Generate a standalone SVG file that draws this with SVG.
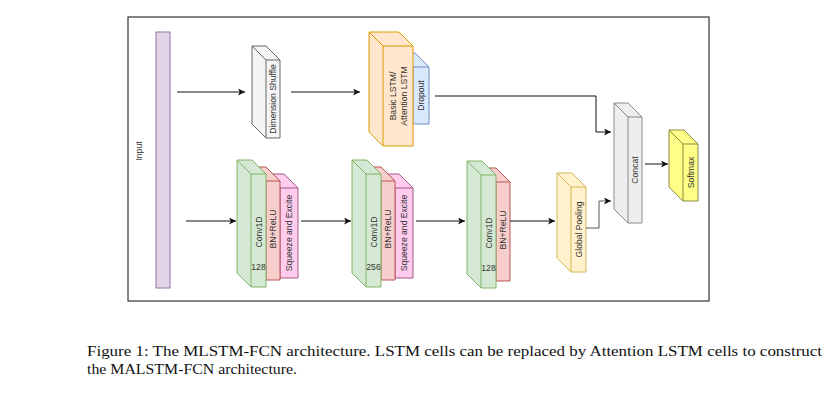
<svg xmlns="http://www.w3.org/2000/svg" width="838" height="400" viewBox="0 0 838 400">
<style>
.lbl{font-family:"Liberation Sans",Arial,sans-serif;font-size:8.6px;fill:#333;stroke:none;text-anchor:middle;dominant-baseline:central}
.cap{font-family:"Liberation Serif","Times New Roman",serif;font-size:15.4px;fill:#111}
.edge{fill:none;stroke:#111;stroke-width:1}
.gray{fill:#f5f5f5;stroke:#666}
.conc{fill:#eeeeee;stroke:#8a8a8a}
.org{fill:#ffe6cc;stroke:#d79b00}
.blue{fill:#dae8fc;stroke:#6c8ebf}
.grn{fill:#d5e8d4;stroke:#82b366}
.red{fill:#f8cecc;stroke:#b85450}
.pnk{fill:#ffccee;stroke:#a0588a}
.ylw{fill:#fff2cc;stroke:#d6b656}
.sm{fill:#ffff88;stroke:#8a8a40}
.in{fill:#e1d5e7;stroke:#9673a6}
.inner{fill:none}
</style>
<defs>
<marker id="ah" markerUnits="userSpaceOnUse" markerWidth="8" markerHeight="7" refX="7" refY="3.5" orient="auto">
<path d="M0,0 L7,3.5 L0,7 L1.8,3.5 z" fill="#111"/>
</marker>
</defs>
<rect x="128" y="17" width="581" height="284" fill="#fff" stroke="#333" stroke-width="1.2"/>

<g id="input">
<rect class="in" x="156" y="32" width="14" height="256"/>
<text class="lbl" transform="rotate(-90 139 151)" x="139" y="151">Input</text>
</g>

<g id="dimshuffle" class="gray">
<polygon points="252,46 266,46 280,60 280,138 266,138 252,124"/>
<path class="inner" d="M252,46 L266,60 L280,60 M266,60 L266,138"/>
<text class="lbl" transform="rotate(-90 273 99)" x="273" y="99">Dimension Shuffle</text>
</g>

<g id="dropout" class="blue">
<polygon points="399,53 415,53 429,67 429,124 413,124 399,110"/>
<path class="inner" d="M399,53 L413,67 L429,67 M413,67 L413,124"/>
<text class="lbl" transform="rotate(-90 421 95.5)" x="421" y="95.5">Dropout</text>
</g>

<g id="lstm" class="org">
<polygon points="369,32 399,32 413,46 413,146 383,146 369,132"/>
<path class="inner" d="M369,32 L383,46 L413,46 M383,46 L383,146"/>
<text class="lbl" transform="rotate(-90 398 96)" x="398" y="90.5">Basic LSTM/</text>
<text class="lbl" transform="rotate(-90 398 96)" x="398" y="101.5">Attention LSTM</text>
</g>

<g id="se1" class="pnk">
<polygon points="266,174 284,174 298,188 298,278 280,278 266,264"/>
<path class="inner" d="M266,174 L280,188 L298,188 M280,188 L280,278"/>
<text class="lbl" transform="rotate(-90 289 233)" x="289" y="233">Squeeze and Excite</text>
</g>
<g id="bn1" class="red">
<polygon points="252,167 266,167 280,181 280,280 266,280 252,266"/>
<path class="inner" d="M252,167 L266,181 L280,181 M266,181 L266,280"/>
<text class="lbl" transform="rotate(-90 273 229)" x="273" y="229">BN+ReLU</text>
</g>
<g id="conv1" class="grn">
<polygon points="237,160 252,160 266,174 266,287 251,287 237,273"/>
<path class="inner" d="M237,160 L251,174 L266,174 M251,174 L251,287"/>
<text class="lbl" transform="rotate(-90 258.5 232)" x="258.5" y="232">Conv1D</text>
<text class="lbl" x="258.5" y="267">128</text>
</g>

<g id="se2" class="pnk" transform="translate(115 0)">
<polygon points="266,174 284,174 298,188 298,278 280,278 266,264"/>
<path class="inner" d="M266,174 L280,188 L298,188 M280,188 L280,278"/>
<text class="lbl" transform="rotate(-90 289 233)" x="289" y="233">Squeeze and Excite</text>
</g>
<g id="bn2" class="red" transform="translate(115 0)">
<polygon points="252,167 266,167 280,181 280,280 266,280 252,266"/>
<path class="inner" d="M252,167 L266,181 L280,181 M266,181 L266,280"/>
<text class="lbl" transform="rotate(-90 273 229)" x="273" y="229">BN+ReLU</text>
</g>
<g id="conv2" class="grn" transform="translate(115 0)">
<polygon points="237,160 252,160 266,174 266,287 251,287 237,273"/>
<path class="inner" d="M237,160 L251,174 L266,174 M251,174 L251,287"/>
<text class="lbl" transform="rotate(-90 258.5 232)" x="258.5" y="232">Conv1D</text>
<text class="lbl" x="258.5" y="267">256</text>
</g>

<g id="bn3" class="red" transform="translate(230 1)">
<polygon points="252,167 266,167 280,181 280,280 266,280 252,266"/>
<path class="inner" d="M252,167 L266,181 L280,181 M266,181 L266,280"/>
<text class="lbl" transform="rotate(-90 273 229)" x="273" y="229">BN+ReLU</text>
</g>
<g id="conv3" class="grn" transform="translate(230 1)">
<polygon points="237,160 252,160 266,174 266,287 251,287 237,273"/>
<path class="inner" d="M237,160 L251,174 L266,174 M251,174 L251,287"/>
<text class="lbl" transform="rotate(-90 258.5 232)" x="258.5" y="232">Conv1D</text>
<text class="lbl" x="258.5" y="267">128</text>
</g>

<g id="gpool" class="ylw">
<polygon points="557,173 572,173 586,187 586,272 571,272 557,258"/>
<path class="inner" d="M557,173 L571,187 L586,187 M571,187 L571,272"/>
<text class="lbl" transform="rotate(-90 578.5 229.5)" x="578.5" y="229.5">Global Pooling</text>
</g>

<g id="concat" class="conc">
<polygon points="614,103 628,103 642,117 642,223 628,223 614,209"/>
<path class="inner" d="M614,103 L628,117 L642,117 M628,117 L628,223"/>
<text class="lbl" transform="rotate(-90 635 170)" x="635" y="170">Concat</text>
</g>

<g id="softmax" class="sm">
<polygon points="669,130 684,130 698,144 698,201 683,201 669,187"/>
<path class="inner" d="M669,130 L683,144 L698,144 M683,144 L683,201"/>
<text class="lbl" transform="rotate(-90 690.5 172.5)" x="690.5" y="172.5">Softmax</text>
</g>

<g id="connectors">
<path class="edge" marker-end="url(#ah)" d="M177,92 L245,92"/>
<path class="edge" marker-end="url(#ah)" d="M291,92 L360,92"/>
<path class="edge" marker-end="url(#ah)" d="M435,96 L596,96 L596,132 L611,132"/>
<path class="edge" marker-end="url(#ah)" d="M186,221 L236,221"/>
<path class="edge" marker-end="url(#ah)" d="M301,221 L351,221"/>
<path class="edge" marker-end="url(#ah)" d="M416,221 L465,221"/>
<path class="edge" marker-end="url(#ah)" d="M510,221 L555,221"/>
<path class="edge" marker-end="url(#ah)" d="M586,228 L599,228 L599,201 L611,201" style="stroke:#555"/>
<path class="edge" marker-end="url(#ah)" d="M645,164 L668,164"/>
</g>

<text class="cap" x="87" y="356" textLength="735" lengthAdjust="spacingAndGlyphs">Figure 1: The MLSTM-FCN architecture.  LSTM cells can be replaced by Attention LSTM cells to construct</text>
<text class="cap" x="87" y="374" textLength="210" lengthAdjust="spacingAndGlyphs">the MALSTM-FCN architecture.</text>
</svg>
